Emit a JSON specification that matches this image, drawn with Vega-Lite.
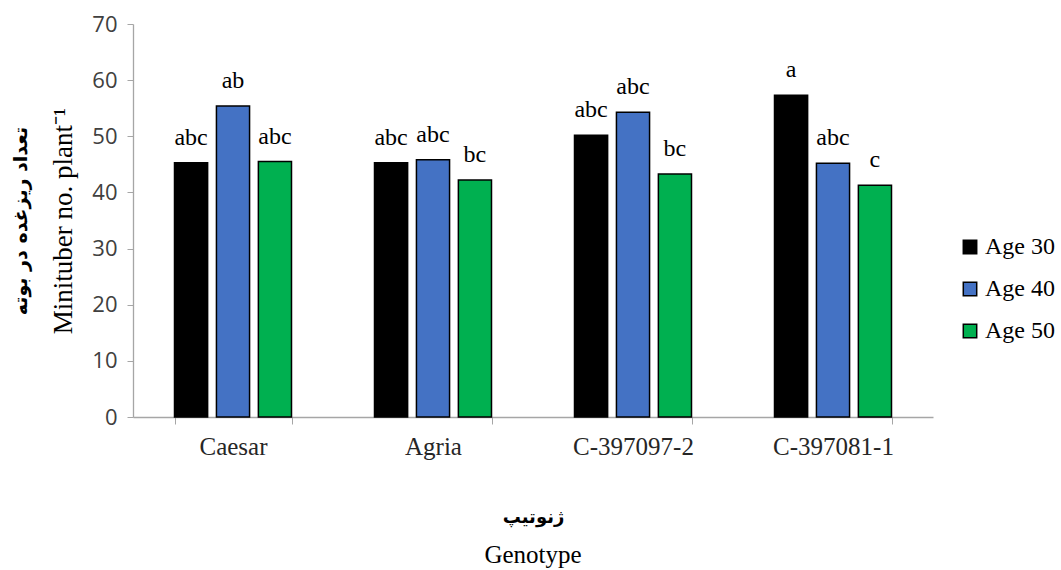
{
  "$schema": "https://vega.github.io/schema/vega-lite/v6.json",
  "width": 800,
  "height": 393,
  "padding": {"left": 11, "top": 13, "right": 5, "bottom": 5},
  "background": "white",
  "config": {"view": {"stroke": null}},
  "title": {"text": "Genotype", "orient": "bottom", "frame": "group", "anchor": "middle", "font": "Liberation Serif", "fontSize": 25, "fontWeight": "normal", "color": "#000000", "offset": 17},
  "data": {"values": [
    {"genotype": "Caesar", "age": "Age 30", "value": 45.3, "letter": "abc"},
    {"genotype": "Caesar", "age": "Age 40", "value": 55.4, "letter": "ab"},
    {"genotype": "Caesar", "age": "Age 50", "value": 45.5, "letter": "abc"},
    {"genotype": "Agria", "age": "Age 30", "value": 45.3, "letter": "abc"},
    {"genotype": "Agria", "age": "Age 40", "value": 45.8, "letter": "abc"},
    {"genotype": "Agria", "age": "Age 50", "value": 42.2, "letter": "bc"},
    {"genotype": "C-397097-2", "age": "Age 30", "value": 50.2, "letter": "abc"},
    {"genotype": "C-397097-2", "age": "Age 40", "value": 54.3, "letter": "abc"},
    {"genotype": "C-397097-2", "age": "Age 50", "value": 43.3, "letter": "bc"},
    {"genotype": "C-397081-1", "age": "Age 30", "value": 57.3, "letter": "a"},
    {"genotype": "C-397081-1", "age": "Age 40", "value": 45.2, "letter": "abc"},
    {"genotype": "C-397081-1", "age": "Age 50", "value": 41.3, "letter": "c"}
  ]},
  "encoding": {
    "x": {"field": "genotype", "type": "nominal", "sort": ["Caesar", "Agria", "C-397097-2", "C-397081-1"],
      "scale": {"paddingInner": 0.415, "paddingOuter": 0.2075},
      "axis": {"title": "ژنوتیپ", "titleFont": "DejaVu Sans", "titleFontWeight": "bold", "titleFontSize": 18, "titleColor": "#000000", "titlePadding": 49,
        "labelAngle": 0, "labelFont": "Liberation Serif", "labelFontSize": 25, "labelColor": "#262626", "labelPadding": 10,
        "tickBand": "extent", "tickColor": "#A6A6A6", "tickSize": 7, "domainColor": "#A6A6A6", "domainWidth": 1.3, "grid": false}},
    "xOffset": {"field": "age", "type": "nominal", "sort": ["Age 30", "Age 40", "Age 50"], "scale": {"paddingInner": 0.21, "paddingOuter": 0}}
  },
  "layer": [
    {
      "mark": {"type": "bar", "stroke": "#000000", "strokeWidth": 1.5},
      "encoding": {
        "y": {"field": "value", "type": "quantitative", "scale": {"domain": [0, 70]},
          "axis": {"orient": "left", "values": [0, 10, 20, 30, 40, 50, 60, 70], "title": "Minituber no. plant⁻¹", "titleFont": "Liberation Serif", "titleFontWeight": "normal", "titleFontSize": 27, "titleColor": "#000000", "titlePadding": 14,
            "labelFont": "Open Sans", "labelFontSize": 22, "labelColor": "#404040", "labelPadding": 10,
            "tickColor": "#A6A6A6", "tickSize": 6, "domainColor": "#A6A6A6", "domainWidth": 1.3, "grid": false}},
        "color": {"field": "age", "type": "nominal", "scale": {"domain": ["Age 30", "Age 40", "Age 50"], "range": ["#000000", "#4472C4", "#00B050"]},
          "legend": {"title": null, "orient": "none", "legendX": 825, "legendY": 211, "symbolType": "square", "symbolSize": 180, "symbolStrokeColor": "#000000", "symbolStrokeWidth": 1.5,
            "labelFont": "Liberation Serif", "labelFontSize": 24, "labelColor": "#000000", "rowPadding": 18, "labelOffset": 3}}
      }
    },
    {
      "mark": {"type": "text", "baseline": "alphabetic", "dy": -18, "font": "Liberation Serif", "fontSize": 24, "color": "#000000"},
      "encoding": {
        "y": {"field": "value", "type": "quantitative", "scale": {"domain": [0, 70]},
          "axis": {"orient": "left", "offset": 100, "labels": false, "ticks": false, "domain": false, "grid": false, "title": "تعداد ریزغده در بوته", "titleFont": "DejaVu Sans", "titleFontWeight": "bold", "titleFontSize": 19, "titleColor": "#000000", "titlePadding": 3}},
        "text": {"field": "letter"}
      }
    }
  ],
  "resolve": {"scale": {"y": "independent"}, "axis": {"y": "independent"}}
}
